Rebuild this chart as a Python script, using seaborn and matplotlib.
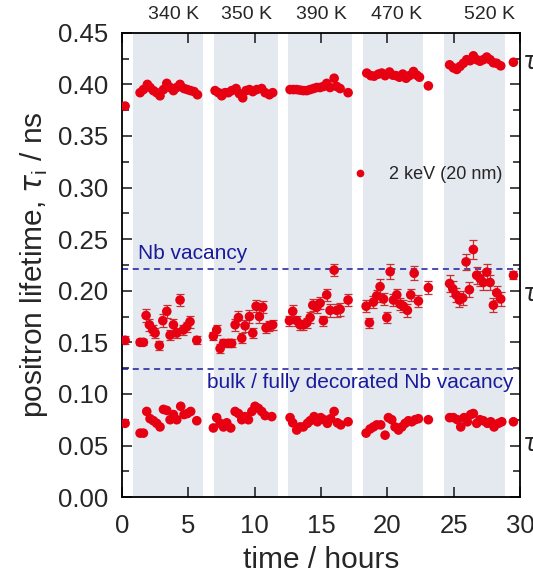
import numpy as np
import pandas as pd
import matplotlib.pyplot as plt
import matplotlib.transforms as mtransforms
from matplotlib.ticker import MultipleLocator
import seaborn as sns

# annealing intervals and temperatures
band_start = [0.8, 6.93, 12.53, 18.19, 24.29]
band_end = [6.08, 11.73, 17.35, 22.7, 28.86]
temps = ['340 K', '350 K', '390 K', '470 K', '520 K']
temp_x = [3.9, 9.4, 15.0, 20.7, 27.7]

# tau3 (long component)
t3 = [0.23, 1.36, 1.61, 1.91, 2.11, 2.36, 2.61, 2.86, 3.12, 3.37, 3.62, 3.87, 4.12, 4.37, 4.67, 4.92, 5.17, 5.43, 5.68,
      7.01, 7.26, 7.51, 7.76, 8.01, 8.26, 8.59, 8.84, 9.09, 9.34, 9.60, 9.85, 10.15, 10.52, 10.78, 11.10, 11.35,
      12.66, 12.91, 13.16, 13.41, 13.66, 13.92, 14.17, 14.42, 14.67, 14.92, 15.17, 15.42, 15.67, 15.98, 16.18, 16.43, 17.03,
      18.44, 18.74, 18.99, 19.32, 19.57, 19.82, 20.15, 20.40, 20.65, 20.90, 21.15, 21.40, 21.65, 21.96, 22.21, 22.41, 23.08,
      24.68, 24.97, 25.22, 25.47, 25.72, 25.97, 26.22, 26.47, 26.72, 26.97, 27.22, 27.48, 27.73, 27.98, 28.23, 28.53, 29.49]
v3 = [0.379, 0.392, 0.395, 0.400, 0.397, 0.394, 0.392, 0.389, 0.395, 0.401, 0.397, 0.394, 0.397, 0.400, 0.396, 0.395, 0.394, 0.393, 0.390,
      0.394, 0.392, 0.389, 0.392, 0.392, 0.394, 0.396, 0.391, 0.387, 0.394, 0.395, 0.393, 0.395, 0.396, 0.392, 0.390, 0.392,
      0.395, 0.395, 0.395, 0.3945, 0.394, 0.394, 0.395, 0.396, 0.397, 0.397, 0.398, 0.401, 0.397, 0.406, 0.398, 0.396, 0.392,
      0.411, 0.4085, 0.408, 0.410, 0.411, 0.4085, 0.412, 0.409, 0.4085, 0.407, 0.410, 0.406, 0.4085, 0.4125, 0.409, 0.407, 0.3986,
      0.419, 0.416, 0.4145, 0.4175, 0.4205, 0.424, 0.423, 0.4277, 0.424, 0.4225, 0.424, 0.4265, 0.424, 0.421, 0.4205, 0.418, 0.4215]

# tau2 (defect component)
t2 = [0.23, 1.36, 1.61, 1.81, 2.06, 2.31, 2.49, 2.81, 3.07, 3.37, 3.62, 3.87, 4.12, 4.37, 4.62, 4.87, 5.12, 5.63,
      6.88, 7.13, 7.39, 7.64, 8.01, 8.26, 8.52, 8.77, 9.02, 9.27, 9.60, 9.85, 10.10, 10.35, 10.60, 10.85, 11.10, 11.35,
      12.61, 12.86, 13.16, 13.41, 13.66, 13.92, 14.17, 14.37, 14.67, 14.92, 15.17, 15.42, 15.67, 15.98, 16.18, 16.43, 17.03,
      18.39, 18.64, 18.94, 19.19, 19.44, 19.70, 19.95, 20.20, 20.45, 20.70, 20.95, 21.20, 21.50, 21.75, 22.01, 22.33, 23.08,
      24.68, 24.92, 25.17, 25.42, 25.67, 25.92, 26.17, 26.47, 26.72, 26.97, 27.22, 27.48, 27.73, 27.98, 28.23, 28.53, 29.49]
v2 = [0.152, 0.150, 0.150, 0.176, 0.167, 0.162, 0.159, 0.147, 0.171, 0.180, 0.157, 0.167, 0.159, 0.191, 0.162, 0.165, 0.170, 0.152,
      0.156, 0.162, 0.144, 0.149, 0.149, 0.149, 0.167, 0.174, 0.154, 0.166, 0.175, 0.159, 0.185, 0.175, 0.184, 0.164, 0.166, 0.167,
      0.171, 0.180, 0.171, 0.167, 0.167, 0.169, 0.174, 0.186, 0.184, 0.188, 0.171, 0.196, 0.181, 0.220, 0.181, 0.182, 0.191,
      0.185, 0.169, 0.189, 0.195, 0.204, 0.192, 0.174, 0.2185, 0.191, 0.196, 0.187, 0.185, 0.181, 0.196, 0.217, 0.190, 0.203,
      0.207, 0.202, 0.196, 0.191, 0.193, 0.228, 0.201, 0.240, 0.215, 0.212, 0.208, 0.218, 0.208, 0.186, 0.198, 0.192, 0.215]
e2 = [0.004, 0.003, 0.003, 0.006, 0.006, 0.005, 0.005, 0.004, 0.006, 0.006, 0.005, 0.006, 0.005, 0.006, 0.005, 0.005, 0.006, 0.004,
      0.004, 0.005, 0.004, 0.004, 0.004, 0.004, 0.006, 0.006, 0.005, 0.006, 0.006, 0.005, 0.006, 0.006, 0.006, 0.005, 0.005, 0.005,
      0.005, 0.006, 0.005, 0.005, 0.005, 0.005, 0.005, 0.006, 0.006, 0.006, 0.005, 0.006, 0.006, 0.006, 0.006, 0.006, 0.006,
      0.006, 0.005, 0.006, 0.006, 0.007, 0.006, 0.005, 0.007, 0.006, 0.006, 0.006, 0.006, 0.006, 0.006, 0.007, 0.006, 0.006,
      0.008, 0.007, 0.007, 0.007, 0.007, 0.008, 0.007, 0.009, 0.008, 0.007, 0.007, 0.008, 0.007, 0.007, 0.007, 0.007, 0.004]

# tau1 (short component)
t1 = [0.23, 1.36, 1.61, 1.86, 2.11, 2.36, 2.61, 2.86, 3.12, 3.37, 3.62, 3.87, 4.12, 4.42, 4.67, 4.92, 5.17, 5.63,
      6.88, 7.13, 7.39, 7.64, 7.89, 8.19, 8.52, 8.77, 9.02, 9.27, 9.52, 9.78, 10.02, 10.27, 10.52, 10.78, 11.28,
      12.66, 12.86, 13.16, 13.41, 13.66, 13.97, 14.17, 14.47, 14.72, 14.97, 15.22, 15.47, 15.72, 15.98, 16.23, 16.48, 17.03,
      18.39, 18.69, 18.94, 19.19, 19.49, 19.82, 20.07, 20.32, 20.57, 20.83, 21.08, 21.33, 21.58, 21.83, 22.08, 22.33, 23.08,
      24.68, 24.97, 25.27, 25.52, 25.77, 26.02, 26.27, 26.47, 26.72, 26.97, 27.22, 27.53, 27.78, 28.03, 28.36, 28.61, 29.49]
v1 = [0.0715, 0.062, 0.062, 0.083, 0.076, 0.074, 0.0715, 0.068, 0.085, 0.084, 0.075, 0.080, 0.075, 0.088, 0.080, 0.081, 0.083, 0.074,
      0.067, 0.077, 0.0715, 0.068, 0.072, 0.067, 0.083, 0.081, 0.075, 0.078, 0.075, 0.083, 0.088, 0.086, 0.083, 0.079, 0.078,
      0.077, 0.072, 0.065, 0.068, 0.068, 0.0715, 0.074, 0.078, 0.073, 0.077, 0.075, 0.0715, 0.076, 0.083, 0.072, 0.070, 0.073,
      0.062, 0.066, 0.068, 0.070, 0.070, 0.060, 0.077, 0.075, 0.068, 0.065, 0.068, 0.0715, 0.074, 0.073, 0.075, 0.076, 0.075,
      0.077, 0.077, 0.075, 0.068, 0.077, 0.073, 0.080, 0.081, 0.0715, 0.075, 0.074, 0.0715, 0.073, 0.068, 0.0715, 0.073, 0.073]

# reference lifetimes
nb_vacancy = 0.221
nb_bulk = 0.124

red = '#e60012'
dark_blue = '#1a1a9c'

sns.set_style('ticks')
plt.rcParams['font.family'] = ['Liberation Sans', 'DejaVu Sans']

df = pd.concat([
    pd.DataFrame({'time': t3, 'tau': v3, 'comp': 'tau3'}),
    pd.DataFrame({'time': t2, 'tau': v2, 'comp': 'tau2'}),
    pd.DataFrame({'time': t1, 'tau': v1, 'comp': 'tau1'}),
])
df['label'] = '2 keV (20 nm)'

fig = plt.figure(figsize=(5.33, 5.76), dpi=100)
ax = fig.add_axes([0.229, 0.137, 0.747, 0.806])

for s, e in zip(band_start, band_end):
    ax.axvspan(s, e, color='#e4e9f0', lw=0, zorder=0)

ax.axhline(nb_vacancy, color=dark_blue, ls='--', lw=1.1, dashes=(4, 3), zorder=1)
ax.axhline(nb_bulk, color=dark_blue, ls='--', lw=1.1, dashes=(4, 3), zorder=1)
ax.text(1.2, nb_vacancy + 0.006, 'Nb vacancy', color=dark_blue, fontsize=15, va='bottom', ha='left')
ax.text(29.5, nb_bulk - 0.004, 'bulk / fully decorated Nb vacancy', color=dark_blue, fontsize=15,
        va='top', ha='right')

ax.errorbar(t2, v2, yerr=e2, fmt='none', ecolor='#c83030', elinewidth=0.9, capsize=2.7, capthick=0.9, zorder=2)
sns.scatterplot(data=df, x='time', y='tau', hue='label', palette=[red], s=48, linewidth=0,
                ax=ax, zorder=3)

ax.set_xlim(0, 30)
ax.set_ylim(0, 0.45)
ax.xaxis.set_major_locator(MultipleLocator(5))
ax.yaxis.set_major_locator(MultipleLocator(0.05))
ax.yaxis.set_minor_locator(MultipleLocator(0.025))
ax.yaxis.set_major_formatter(plt.FormatStrFormatter('%.2f'))
ax.tick_params(which='both', direction='in', top=True, right=True, width=1.2, labelsize=18.5)
ax.tick_params(which='major', length=7)
ax.tick_params(which='minor', length=5)
ax.tick_params(axis='x', pad=12)
ax.tick_params(axis='y', pad=10)
for sp in ax.spines.values():
    sp.set_linewidth(1.3)
    sp.set_color('black')

ax.set_xlabel('time / hours', fontsize=21.5, labelpad=6)
ax.set_ylabel(r'positron lifetime, $\tau_{\mathregular{i}}$ / ns', fontsize=21.5, labelpad=6)

leg = ax.legend(loc='center left', bbox_to_anchor=(0.512, 0.694), frameon=False, fontsize=13,
                handletextpad=0.6, markerscale=0.8, title=None)

for x, lab in zip(temp_x, temps):
    ax.text(x, 1.04, lab, transform=mtransforms.blended_transform_factory(ax.transData, ax.transAxes),
            ha='center', va='center', fontsize=14)

# component labels just outside the right spine (cut by the figure edge, as in the source)
trans = mtransforms.blended_transform_factory(ax.transAxes, ax.transData)
for y, lab in zip([0.419, 0.194, 0.0485], [r'$\tau_3$', r'$\tau_2$', r'$\tau_1$']):
    ax.text(1.004, y, lab, transform=trans, ha='left', va='center', fontsize=17)

fig.savefig('out.png', dpi=100)
